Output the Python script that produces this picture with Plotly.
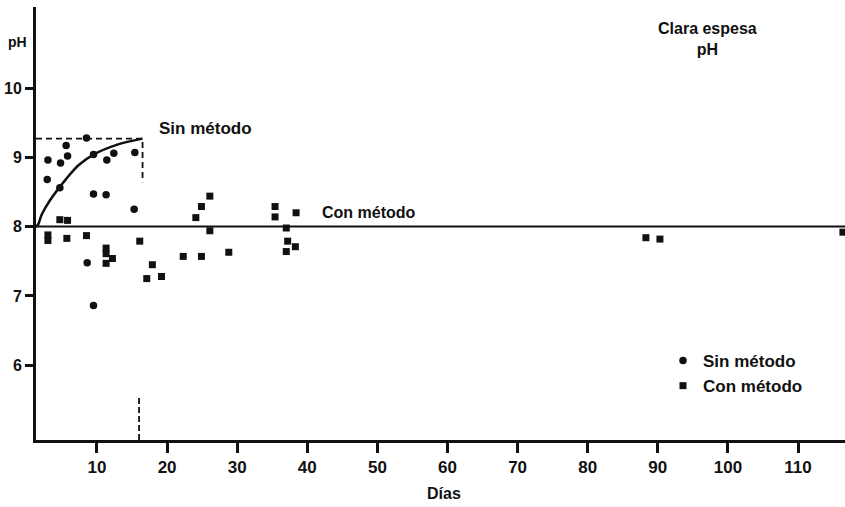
import plotly.graph_objects as go

# --- data ---
sin_days = [3.0, 2.9, 4.7, 4.8, 5.6, 5.8, 8.5, 9.5, 9.5, 11.3, 11.4, 12.4, 15.4, 15.3, 9.5, 8.6]
sin_ph   = [8.96, 8.68, 8.56, 8.92, 9.17, 9.02, 9.28, 9.04, 8.47, 8.46, 8.96, 9.06, 9.07, 8.25, 6.86, 7.48]

con_days = [4.7, 5.8, 3.0, 3.0, 5.7, 8.5, 11.3, 11.3, 12.2, 11.3, 16.1, 17.9, 17.1, 19.2,
            22.3, 24.9, 24.1, 24.9, 26.1, 26.1, 28.8, 35.4, 35.4, 38.4, 37.0, 37.2, 38.3, 37.0,
            88.3, 90.3, 116.4]
con_ph   = [8.10, 8.09, 7.88, 7.80, 7.83, 7.87, 7.69, 7.61, 7.54, 7.47, 7.79, 7.45, 7.25, 7.28,
            7.57, 7.57, 8.13, 8.29, 8.44, 7.94, 7.63, 8.29, 8.14, 8.20, 7.98, 7.79, 7.71, 7.64,
            7.84, 7.82, 7.92]

curve_days = [1.3, 1.6, 2.1, 3.3, 5.7, 7.4, 9.5, 12.8, 16.5]
curve_ph   = [8.00, 8.03, 8.17, 8.38, 8.70, 8.89, 9.04, 9.18, 9.27]

ref_days = [1.3, 116.7]
ref_ph   = [8.0, 8.0]

box_days = [1.3, 16.5, 16.5]
box_ph   = [9.27, 9.27, 8.64]

low_dash_days = [16.0, 16.0]
low_dash_ph   = [4.92, 5.56]

x_ticks = [10, 20, 30, 40, 50, 60, 70, 80, 90, 100, 110]
y_ticks = [6, 7, 8, 9, 10]

FONT = "Liberation Sans, Arial, sans-serif"
BLACK = "#111111"
W, H = 845, 507
ML, MR, MT, MB = 36, 0, 7, 67
PW, PH = W - ML - MR, H - MT - MB

fig = go.Figure()

fig.add_trace(go.Scatter(x=ref_days, y=ref_ph, mode="lines",
                         line=dict(color=BLACK, width=2), showlegend=False, hoverinfo="skip"))
fig.add_trace(go.Scatter(x=curve_days, y=curve_ph, mode="lines",
                         line=dict(color=BLACK, width=2.5, shape="spline"), showlegend=False))
fig.add_trace(go.Scatter(x=box_days, y=box_ph, mode="lines",
                         line=dict(color=BLACK, width=1.8, dash="6px,4px"), showlegend=False))
fig.add_trace(go.Scatter(x=low_dash_days, y=low_dash_ph, mode="lines",
                         line=dict(color=BLACK, width=1.8, dash="6px,3px"), showlegend=False))

fig.add_trace(go.Scatter(x=sin_days, y=sin_ph, mode="markers", name="Sin método",
                         marker=dict(symbol="circle", size=7.5, color=BLACK)))
fig.add_trace(go.Scatter(x=con_days, y=con_ph, mode="markers", name="Con método",
                         marker=dict(symbol="square", size=7, color=BLACK)))

fig.update_layout(
    width=W, height=H,
    margin=dict(l=ML, r=MR, t=MT, b=MB),
    paper_bgcolor="white", plot_bgcolor="white",
    font=dict(family=FONT, color=BLACK, size=15),
    showlegend=True,
    legend=dict(x=(663 - ML) / PW, y=1 - (343 - MT) / PH, xanchor="left", yanchor="top",
                bgcolor="rgba(0,0,0,0)", font=dict(size=17, weight="bold"),
                tracegroupgap=0, itemwidth=30),
    xaxis=dict(range=[1.3, 116.7], tickvals=x_ticks, ticks="outside", ticklen=10,
               tickwidth=2.5, tickcolor=BLACK, showline=True, linecolor=BLACK, linewidth=2.5,
               showgrid=False, zeroline=False,
               tickfont=dict(size=17, weight="bold", family=FONT)),
    yaxis=dict(range=[4.92, 11.17], tickvals=y_ticks, ticks="outside", ticklen=8,
               tickwidth=2.5, tickcolor=BLACK, showline=True, linecolor=BLACK, linewidth=3,
               showgrid=False, zeroline=False,
               tickfont=dict(size=16, weight="bold", family=FONT)),
)


def px_to_paper(px, py):
    return (px - ML) / PW, 1 - (py - MT) / PH


annotations = [
    dict(text="<b>Sin método</b>", x=18.5, y=9.42, xref="x", yref="y",
         xanchor="left", yanchor="middle", showarrow=False, font=dict(size=17)),
    dict(text="<b>Con método</b>", x=41.8, y=8.21, xref="x", yref="y",
         xanchor="left", yanchor="middle", showarrow=False, font=dict(size=16)),
]
for text, px, py, size in [("<b>Clara espesa<br>pH</b>", 707, 39, 16),
                           ("<b>pH</b>", 17, 42, 14),
                           ("<b>Días</b>", 444, 493, 16)]:
    x, y = px_to_paper(px, py)
    annotations.append(dict(text=text, x=x, y=y, xref="paper", yref="paper",
                            xanchor="center", yanchor="middle", showarrow=False,
                            font=dict(size=size)))
for a in annotations:
    fig.add_annotation(**a)

fig.write_html("out.html")
